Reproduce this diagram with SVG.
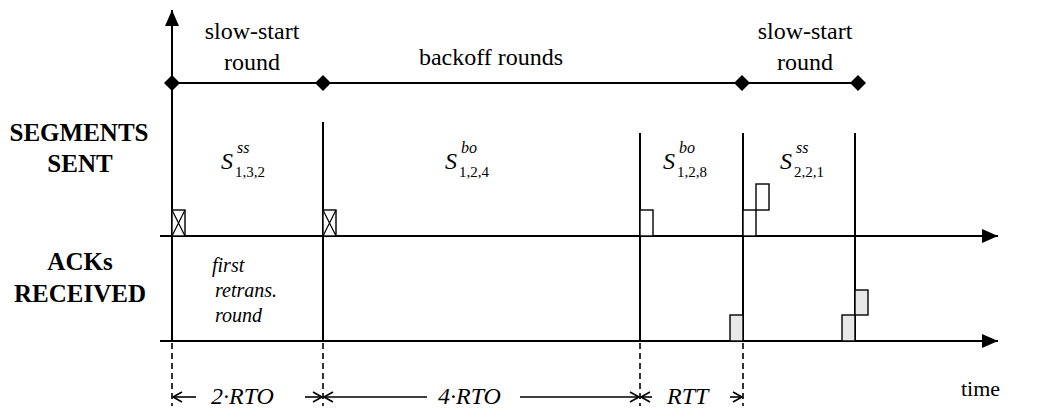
<svg xmlns="http://www.w3.org/2000/svg" width="1040" height="417" viewBox="0 0 1040 417">
<style>
.ln{stroke:#000;stroke-width:2;fill:none}
.dash{stroke:#000;stroke-width:1.6;stroke-dasharray:6,4;fill:none}
.box{stroke:#000;stroke-width:1.4;fill:#fff}
.gbox{stroke:#000;stroke-width:1.4;fill:#e8e8e8}
.arr{stroke:#000;stroke-width:1.6;fill:none}
</style>
<defs>
<marker id="tri" markerWidth="18" markerHeight="14" refX="16" refY="7" orient="auto" markerUnits="userSpaceOnUse">
<path d="M0,0 L16,7 L0,14 Z" fill="#000"/>
</marker>
<marker id="dia" markerWidth="16" markerHeight="16" refX="8" refY="8" markerUnits="userSpaceOnUse">
<path d="M0,8 L8,0 L16,8 L8,16 Z" fill="#000"/>
</marker>
<marker id="open" markerWidth="12" markerHeight="12" refX="10" refY="6" orient="auto" markerUnits="userSpaceOnUse">
<path d="M1,1 L10,6 L1,11" stroke="#000" stroke-width="1.6" fill="none"/>
</marker>
</defs>
<rect width="1040" height="417" fill="#fff"/>

<g id="axes">
<line class="ln" x1="172" y1="341" x2="172" y2="10" marker-end="url(#tri)"/>
<line class="ln" x1="160" y1="236" x2="998" y2="236" marker-end="url(#tri)"/>
<line class="ln" x1="160" y1="341" x2="998" y2="341" marker-end="url(#tri)"/>
</g>

<g id="rounds-line">
<polyline class="ln" points="172,83 323,83 742,83 858,83" marker-start="url(#dia)" marker-mid="url(#dia)" marker-end="url(#dia)"/>
</g>

<g id="connectors">
<line class="ln" x1="323" y1="122" x2="323" y2="341"/>
<line class="ln" x1="640" y1="133" x2="640" y2="341"/>
<line class="ln" x1="743" y1="133" x2="743" y2="341"/>
<line class="ln" x1="855" y1="133" x2="855" y2="341"/>
<line class="dash" x1="172" y1="343" x2="172" y2="406"/>
<line class="dash" x1="323" y1="343" x2="323" y2="406"/>
<line class="dash" x1="640" y1="343" x2="640" y2="406"/>
<line class="dash" x1="743" y1="343" x2="743" y2="406"/>
<line class="arr" x1="196" y1="397" x2="173" y2="397" marker-end="url(#open)"/>
<line class="arr" x1="305" y1="397" x2="322" y2="397" marker-end="url(#open)"/>
<line class="arr" x1="427" y1="397" x2="324" y2="397" marker-end="url(#open)"/>
<line class="arr" x1="520" y1="397" x2="639" y2="397" marker-end="url(#open)"/>
<line class="arr" x1="652" y1="397" x2="641" y2="397" marker-end="url(#open)"/>
<line class="arr" x1="730" y1="397" x2="742" y2="397" marker-end="url(#open)"/>
</g>

<g id="segments">
<rect class="box" x="172" y="210" width="13" height="26"/>
<path d="M172,210 L185,236 M185,210 L172,236" stroke="#000" stroke-width="1.2"/>
<rect class="box" x="323" y="210" width="13" height="26"/>
<path d="M323,210 L336,236 M336,210 L323,236" stroke="#000" stroke-width="1.2"/>
<rect class="box" x="640" y="210" width="13" height="26"/>
<rect class="box" x="743" y="210" width="13" height="26"/>
<rect class="box" x="756" y="184" width="13" height="26"/>
</g>

<g id="acks">
<rect class="gbox" x="730" y="315" width="13" height="26"/>
<rect class="gbox" x="842" y="315" width="13" height="26"/>
<rect class="gbox" x="855" y="290" width="13" height="25"/>
</g>

<g id="labels" fill="#000">
<text font-family="Liberation Serif" font-size="24" text-anchor="middle" x="252" y="39">slow-start</text>
<text font-family="Liberation Serif" font-size="24" text-anchor="middle" x="252" y="70">round</text>
<text font-family="Liberation Serif" font-size="24" text-anchor="middle" x="491" y="65">backoff rounds</text>
<text font-family="Liberation Serif" font-size="24" text-anchor="middle" x="805" y="39">slow-start</text>
<text font-family="Liberation Serif" font-size="24" text-anchor="middle" x="805" y="70">round</text>

<text font-family="Liberation Serif" font-size="25" font-weight="bold" text-anchor="middle" x="79" y="141">SEGMENTS</text>
<text font-family="Liberation Serif" font-size="25" font-weight="bold" text-anchor="middle" x="80" y="172">SENT</text>
<text font-family="Liberation Serif" font-size="25" font-weight="bold" text-anchor="middle" x="80" y="270">ACKs</text>
<text font-family="Liberation Serif" font-size="25" font-weight="bold" text-anchor="middle" x="80" y="302">RECEIVED</text>

<text font-family="Liberation Serif" font-style="italic" x="221" y="169" font-size="24">S</text>
<text font-family="Liberation Serif" font-style="italic" x="237" y="153" font-size="16">ss</text>
<text font-family="Liberation Serif" x="235" y="177" font-size="15">1,3,2</text>

<text font-family="Liberation Serif" font-style="italic" x="445" y="169" font-size="24">S</text>
<text font-family="Liberation Serif" font-style="italic" x="461" y="153" font-size="16">bo</text>
<text font-family="Liberation Serif" x="459" y="177" font-size="15">1,2,4</text>

<text font-family="Liberation Serif" font-style="italic" x="663" y="169" font-size="24">S</text>
<text font-family="Liberation Serif" font-style="italic" x="679" y="153" font-size="16">bo</text>
<text font-family="Liberation Serif" x="677" y="177" font-size="15">1,2,8</text>

<text font-family="Liberation Serif" font-style="italic" x="780" y="169" font-size="24">S</text>
<text font-family="Liberation Serif" font-style="italic" x="796" y="153" font-size="16">ss</text>
<text font-family="Liberation Serif" x="794" y="177" font-size="15">2,2,1</text>

<text font-family="Liberation Serif" font-style="italic" x="212" y="272" font-size="20">first</text>
<text font-family="Liberation Serif" font-style="italic" x="215" y="297" font-size="20">retrans.</text>
<text font-family="Liberation Serif" font-style="italic" x="215" y="322" font-size="20">round</text>

<text font-family="Liberation Serif" font-style="italic" x="211" y="404" font-size="24">2·RTO</text>
<text font-family="Liberation Serif" font-style="italic" x="438" y="404" font-size="24">4·RTO</text>
<text font-family="Liberation Serif" font-style="italic" x="667" y="404" font-size="24">RTT</text>
<text font-family="Liberation Serif" x="961" y="396" font-size="22">time</text>
</g>
</svg>
